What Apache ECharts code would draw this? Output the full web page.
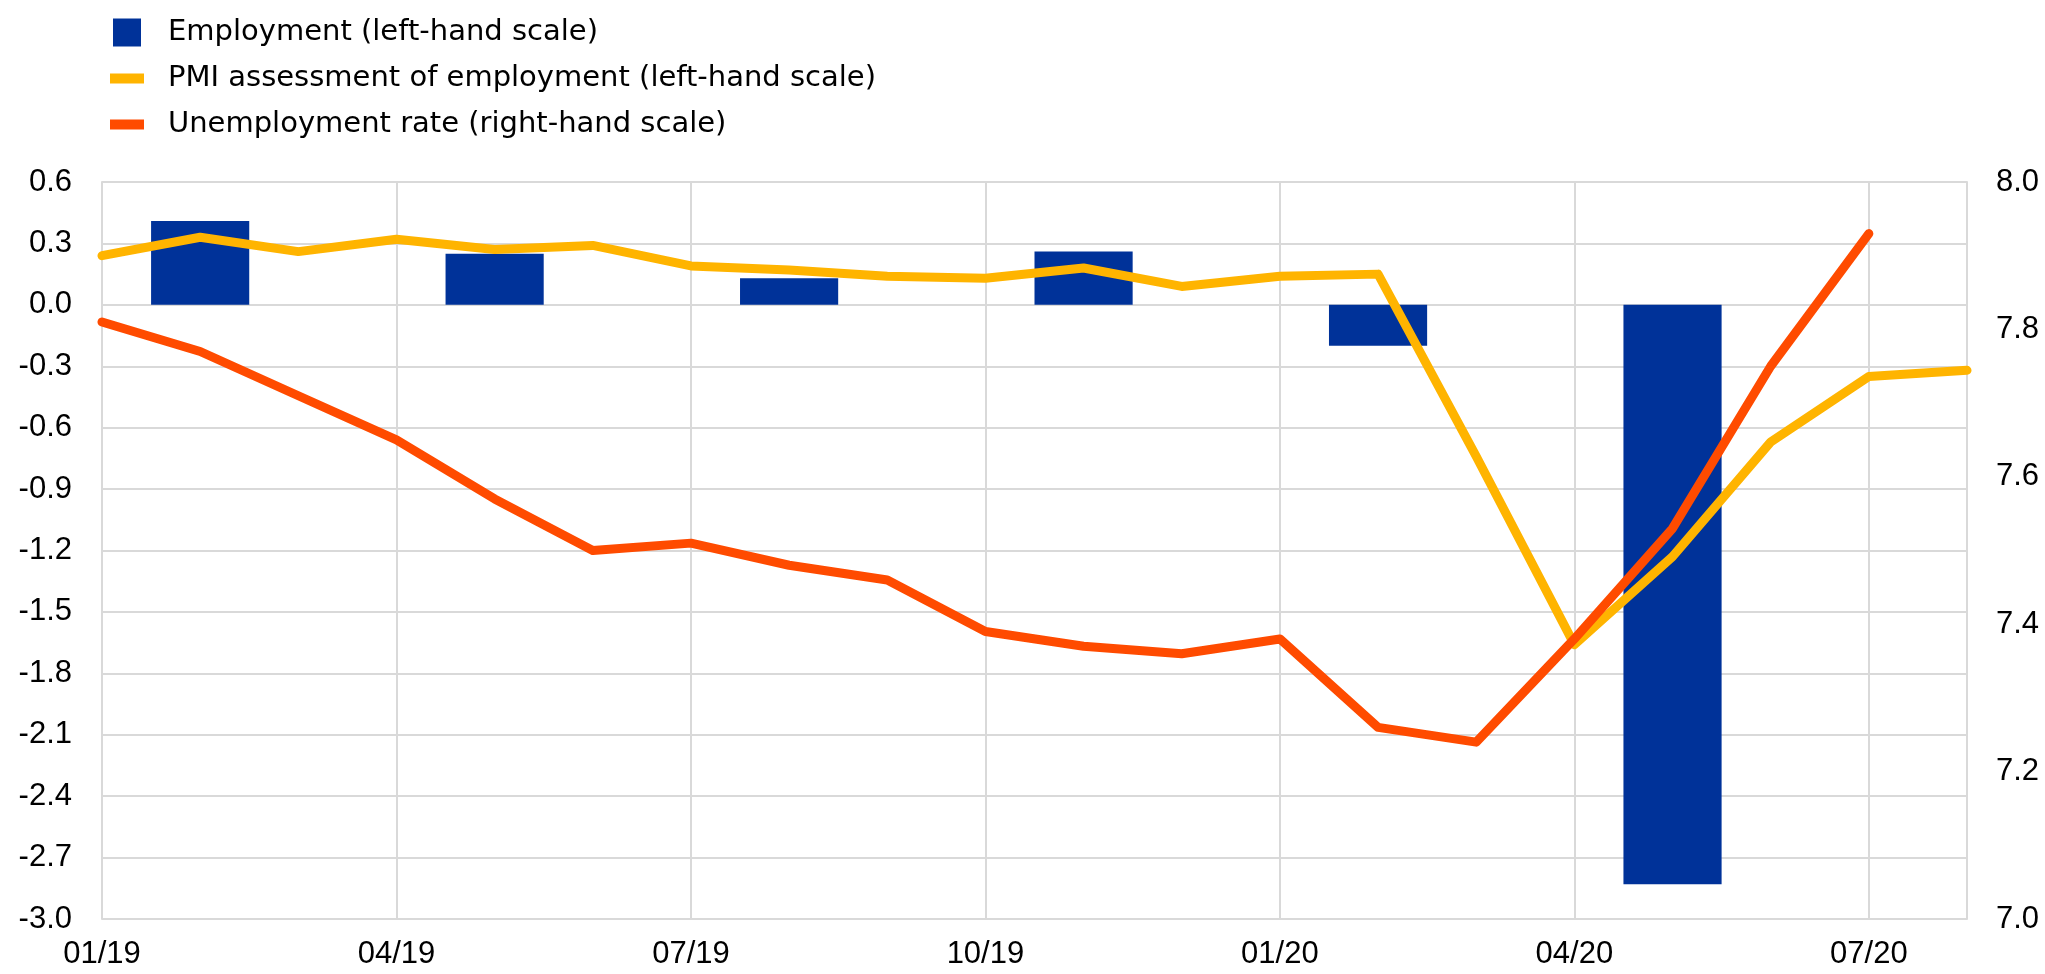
<!DOCTYPE html>
<html>
<head>
<meta charset="utf-8">
<script src="https://cdn.jsdelivr.net/npm/echarts@6/dist/echarts.min.js"></script>
<style>
  html, body { margin: 0; padding: 0; background: #ffffff; }
  #chart { width: 2045px; height: 974px; }
</style>
</head>
<body>
<div id="chart"></div>
<script>
// months, 01/19 .. 08/20
const months = [
  "01/19", "02/19", "03/19", "04/19", "05/19", "06/19", "07/19", "08/19", "09/19", "10/19",
  "11/19", "12/19", "01/20", "02/20", "03/20", "04/20", "05/20", "06/20", "07/20", "08/20"
];

// quarterly employment growth, plotted at the middle month of each quarter (left-hand scale)
const employment = [
  null, 0.41, null, null, 0.25, null, null, 0.13, null, null,
  0.26, null, null, -0.20, null, null, -2.83, null, null, null
];

// PMI assessment of employment (left-hand scale)
const pmiEmployment = [
  0.24, 0.33, 0.26, 0.32, 0.27, 0.29, 0.19, 0.17, 0.14, 0.13,
  0.18, 0.09, 0.14, 0.15, -0.74, -1.66, -1.23, -0.67, -0.35, -0.32
];

// unemployment rate (right-hand scale)
const unemployment = [
  7.81, 7.77, 7.71, 7.65, 7.57, 7.50, 7.51, 7.48, 7.46, 7.39,
  7.37, 7.36, 7.38, 7.26, 7.24, 7.38, 7.53, 7.75, 7.93, null
];

const seriesNames = [
  "Employment (left-hand scale)",
  "PMI assessment of employment (left-hand scale)",
  "Unemployment rate (right-hand scale)"
];

const blue = "#003299";
const yellow = "#FFB400";
const orange = "#FF4B00";
const gridGrey = "#d9d9d9";
const labelFont = "'Liberation Sans', Arial, sans-serif";

const chart = echarts.init(document.getElementById("chart"));

const option = {
  backgroundColor: "#ffffff",
  animation: false,
  legend: {
    orient: "vertical",
    left: 105,
    top: 13,
    itemWidth: 34,
    itemHeight: 28,
    itemGap: 17,
    symbolKeepAspect: true,
    textStyle: {
      fontFamily: "'DejaVu Sans', sans-serif",
      fontSize: 29,
      color: "#000000",
      padding: [0, 0, 0, 19]
    },
    data: [
      { name: seriesNames[0], icon: "path://M0,0h28v28h-28z" },
      { name: seriesNames[1], icon: "path://M0,0h34v10h-34z" },
      { name: seriesNames[2], icon: "path://M0,0h34v10h-34z" }
    ]
  },
  grid: {
    left: 102,
    right: 78,
    top: 182,
    bottom: 55
  },
  xAxis: {
    type: "category",
    data: months,
    boundaryGap: false,
    axisLine: { show: true, lineStyle: { color: gridGrey, width: 2 } },
    axisTick: { show: false },
    axisLabel: {
      interval: 2,
      margin: 20,
      fontFamily: labelFont,
      fontSize: 31,
      color: "#000000"
    },
    splitLine: {
      show: true,
      interval: 2,
      lineStyle: { color: gridGrey, width: 2 }
    }
  },
  yAxis: [
    {
      type: "value",
      position: "left",
      min: -3.0,
      max: 0.6,
      interval: 0.3,
      axisLine: { show: true, lineStyle: { color: gridGrey, width: 2 } },
      axisTick: { show: false },
      axisLabel: {
        margin: 30,
        fontFamily: labelFont,
        fontSize: 31,
        color: "#000000",
        formatter: (v) => v.toFixed(1)
      },
      splitLine: { show: true, lineStyle: { color: gridGrey, width: 2 } }
    },
    {
      type: "value",
      position: "right",
      min: 7.0,
      max: 8.0,
      interval: 0.2,
      axisLine: { show: true, lineStyle: { color: gridGrey, width: 2 } },
      axisTick: { show: false },
      axisLabel: {
        margin: 29,
        fontFamily: labelFont,
        fontSize: 31,
        color: "#000000",
        formatter: (v) => v.toFixed(1)
      },
      splitLine: { show: false }
    }
  ],
  series: [
    {
      name: seriesNames[0],
      type: "bar",
      yAxisIndex: 0,
      data: employment,
      barWidth: "100%",
      itemStyle: { color: blue }
    },
    {
      name: seriesNames[1],
      type: "line",
      yAxisIndex: 0,
      data: pmiEmployment,
      symbol: "none",
      itemStyle: { color: yellow },
      lineStyle: { color: yellow, width: 9, join: "round", cap: "round" }
    },
    {
      name: seriesNames[2],
      type: "line",
      yAxisIndex: 1,
      data: unemployment,
      symbol: "none",
      itemStyle: { color: orange },
      lineStyle: { color: orange, width: 9, join: "round", cap: "round" }
    }
  ]
};

chart.setOption(option);
</script>
</body>
</html>
